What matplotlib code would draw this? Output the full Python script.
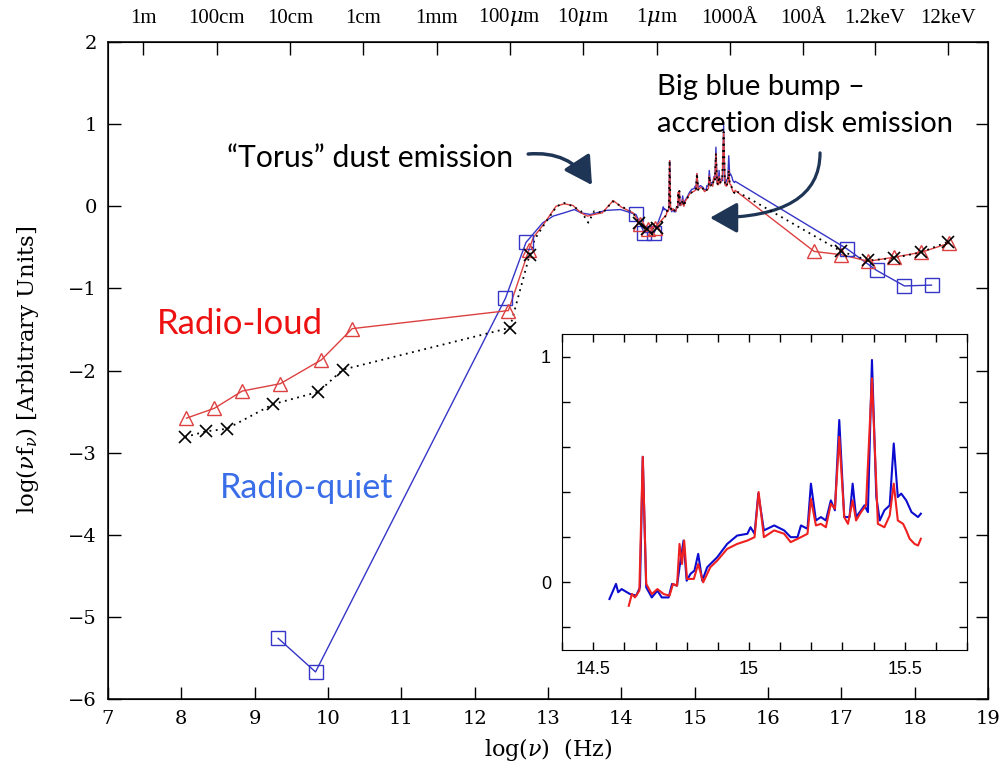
import numpy as np
import matplotlib
matplotlib.use('Agg')
import matplotlib.pyplot as plt

plt.rcParams['font.family'] = 'DejaVu Serif'
plt.rcParams['mathtext.fontset'] = 'dejavuserif'

# ---- radio-loud (red triangles) ----
loud_radio_x = [8.07, 8.45, 8.83, 9.35, 9.91, 10.33, 12.46, 12.74]
loud_radio_y = [-2.58, -2.46, -2.25, -2.16, -1.87, -1.49, -1.27, -0.53]
loud_ir_x = [12.80, 12.94, 13.11, 13.22, 13.34, 13.45, 13.54, 13.63, 13.74, 13.89, 14.00, 14.16]
loud_ir_y = [-0.38, -0.22, 0.00, 0.03, 0.01, -0.08, -0.12, -0.10, -0.08, 0.07, -0.01, -0.08]
loud_nir_x = [14.26, 14.36, 14.46]
loud_nir_y = [-0.22, -0.28, -0.26]
loud_xray_x = [16.63, 17.00, 17.37, 17.72, 18.09, 18.47]
loud_xray_y = [-0.55, -0.59, -0.67, -0.62, -0.56, -0.45]

# ---- radio-quiet (blue squares) ----
quiet_radio_x = [9.32, 9.83, 12.42, 12.70]
quiet_radio_y = [-5.26, -5.67, -1.12, -0.44]
quiet_ir_x = [12.93, 13.07, 13.22, 13.36, 13.45, 13.58, 13.79, 13.99]
quiet_ir_y = [-0.20, -0.12, -0.08, -0.04, -0.08, -0.10, -0.05, -0.04]
quiet_nir_x = [14.20, 14.31, 14.45]
quiet_nir_y = [-0.10, -0.32, -0.32]
quiet_xray_x = [17.08, 17.48, 17.86, 18.23]
quiet_xray_y = [-0.52, -0.78, -0.97, -0.96]

# ---- mean (black crosses, dotted) ----
mean_radio_x = [8.05, 8.34, 8.62, 9.25, 9.87, 10.20, 12.48, 12.75]
mean_radio_y = [-2.81, -2.74, -2.71, -2.41, -2.26, -1.99, -1.48, -0.59]
mean_ir_x = [12.82, 12.95, 13.12, 13.22, 13.34, 13.45, 13.55, 13.63, 13.75, 13.88, 14.00, 14.16]
mean_ir_y = [-0.40, -0.22, 0.00, 0.04, 0.00, -0.06, -0.20, -0.06, -0.08, 0.06, 0.00, -0.08]
mean_nir_x = [14.24, 14.35, 14.49]
mean_nir_y = [-0.20, -0.28, -0.27]
mean_xray_x = [17.00, 17.37, 17.72, 18.09, 18.46]
mean_xray_y = [-0.55, -0.66, -0.63, -0.56, -0.43]

# ---- optical/UV spectra (also shown in the inset) ----
spec_blue_x = [14.552, 14.573, 14.58, 14.591, 14.618, 14.638, 14.65, 14.659, 14.67, 14.688,
               14.706, 14.72, 14.742, 14.753, 14.769, 14.777, 14.79, 14.80, 14.812, 14.825,
               14.837, 14.85, 14.866, 14.898, 14.93, 14.962, 14.995, 15.005, 15.018, 15.03,
               15.048, 15.081, 15.113, 15.134, 15.156, 15.167, 15.188, 15.199, 15.215, 15.231,
               15.247, 15.263, 15.276, 15.29, 15.306, 15.323, 15.333, 15.344, 15.36, 15.371,
               15.382, 15.395, 15.409, 15.42, 15.435, 15.452, 15.465, 15.478, 15.489, 15.505,
               15.522, 15.543, 15.552]
spec_blue_y = [-0.074, -0.007, -0.044, -0.03, -0.052, -0.059, -0.022, 0.556, -0.022, -0.067,
               -0.037, -0.067, -0.067, -0.007, -0.015, 0.067, 0.185, 0.007, 0.037, 0.052,
               0.126, 0.007, 0.067, 0.111, 0.17, 0.207, 0.215, 0.244, 0.215, 0.393,
               0.23, 0.252, 0.23, 0.20, 0.20, 0.252, 0.237, 0.437, 0.274, 0.289,
               0.274, 0.363, 0.319, 0.719, 0.289, 0.289, 0.437, 0.289, 0.319, 0.341,
               0.311, 0.985, 0.378, 0.274, 0.319, 0.341, 0.615, 0.378, 0.393, 0.363,
               0.311, 0.289, 0.304]
spec_red_x = [14.614, 14.624, 14.634, 14.648, 14.659, 14.67, 14.688, 14.706, 14.726, 14.745,
              14.756, 14.769, 14.777, 14.785, 14.792, 14.801, 14.823, 14.837, 14.853, 14.876,
              14.898, 14.93, 14.962, 14.995, 15.018, 15.031, 15.048, 15.081, 15.113, 15.134,
              15.167, 15.188, 15.199, 15.215, 15.231, 15.247, 15.263, 15.276, 15.29, 15.306,
              15.318, 15.333, 15.344, 15.36, 15.376, 15.395, 15.414, 15.435, 15.452, 15.465,
              15.478, 15.495, 15.505, 15.516, 15.532, 15.543, 15.552]
spec_red_y = [-0.104, -0.052, -0.067, -0.037, 0.556, -0.007, -0.052, -0.03, -0.052, -0.059,
              -0.007, -0.015, 0.17, 0.081, 0.185, 0.015, 0.015, 0.081, 0.0, 0.067,
              0.096, 0.148, 0.17, 0.185, 0.20, 0.40, 0.20, 0.23, 0.215, 0.178,
              0.20, 0.215, 0.37, 0.252, 0.259, 0.244, 0.348, 0.326, 0.644, 0.289,
              0.259, 0.363, 0.274, 0.311, 0.341, 0.904, 0.259, 0.244, 0.296, 0.437,
              0.274, 0.259, 0.23, 0.193, 0.17, 0.163, 0.193]

top_tick_pos = [7.48, 8.48, 9.48, 10.48, 11.48, 12.48, 13.48, 14.48, 15.48, 16.48, 17.46, 18.46]
top_tick_labels = ['1m', '100cm', '10cm', '1cm', '1mm', r'100$\mu$m', r'10$\mu$m', r'1$\mu$m',
                   '1000Å', '100Å', '1.2keV', '12keV']

c_blue = '#3535c8'
c_red = '#dd4040'
arrow_c = '#1e3556'

fig = plt.figure(figsize=(10.02, 7.68), dpi=100)
ax = fig.add_axes([0.1078, 0.0898, 0.8782, 0.8555])

# lines
loud_line_x = loud_radio_x + loud_ir_x + loud_nir_x + spec_red_x + loud_xray_x
loud_line_y = loud_radio_y + loud_ir_y + loud_nir_y + spec_red_y + loud_xray_y
quiet_line_x = quiet_radio_x + quiet_ir_x + quiet_nir_x + spec_blue_x + quiet_xray_x
quiet_line_y = quiet_radio_y + quiet_ir_y + quiet_nir_y + spec_blue_y + quiet_xray_y
mean_line_x = mean_radio_x + mean_ir_x + mean_nir_x + spec_red_x + mean_xray_x
mean_line_y = mean_radio_y + mean_ir_y + mean_nir_y + spec_red_y + mean_xray_y

ax.plot(quiet_line_x, quiet_line_y, color=c_blue, lw=1.0, zorder=2)
ax.plot(loud_line_x, loud_line_y, color=c_red, lw=1.0, zorder=3)
ax.plot(mean_line_x, mean_line_y, color='k', lw=1.3, ls=(0, (1, 2.5)), zorder=4)

ax.plot(quiet_radio_x + quiet_nir_x + quiet_xray_x, quiet_radio_y + quiet_nir_y + quiet_xray_y,
        ls='none', marker='s', ms=9.5, mfc='none', mec=c_blue, mew=1.0, zorder=5)
ax.plot(loud_radio_x + loud_nir_x + loud_xray_x, loud_radio_y + loud_nir_y + loud_xray_y,
        ls='none', marker='^', ms=10.5, mfc='none', mec=c_red, mew=1.0, zorder=5)
ax.plot(mean_radio_x + mean_nir_x + mean_xray_x, mean_radio_y + mean_nir_y + mean_xray_y,
        ls='none', marker='x', ms=9, mec='k', mew=1.2, zorder=6)

ax.set_xlim(7, 19)
ax.set_ylim(-6, 2)
ax.set_xticks(range(7, 20))
ax.set_yticks(range(-6, 3))
ax.tick_params(direction='in', length=9, width=1, labelsize=14, right=True, top=False, pad=8)
for s in ax.spines.values():
    s.set_linewidth(1.1)
ax.set_xlabel(r'log($\nu$)  (Hz)', fontsize=16, labelpad=6)
fig.text(0.027, 0.518, r'log($\nu$f$_\nu$) [Arbitrary Units]', rotation=90,
         fontsize=16.5, ha='center', va='center')

top = ax.twiny()
top.set_xlim(7, 19)
top.set_xticks(top_tick_pos)
top.set_xticklabels(top_tick_labels, family='Liberation Serif')
top.tick_params(direction='in', length=9, width=1, labelsize=15, pad=10)

# annotations
sans = 'Lato'
ax.text(8.62, 0.477, '\u201cTorus\u201d dust emission', family=sans, fontsize=21.7, color='k')
ax.text(14.49, 1.355, 'Big blue bump \u2013', family=sans, fontsize=21, color='k')
ax.text(14.49, 0.904, 'accretion disk emission', family=sans, fontsize=21, color='k')
ax.text(7.67, -1.557, 'Radio-loud', family=sans, fontsize=25, color='#ee1111')
ax.text(8.53, -3.554, 'Radio-quiet', family=sans, fontsize=24.5, color='#3a6ee8')

ax.annotate('', xy=(13.60, 0.258), xytext=(12.73, 0.636),
            arrowprops=dict(arrowstyle='-|>,head_length=0.8,head_width=0.45', color=arrow_c,
                            lw=2.5, mutation_scale=21, shrinkA=0, shrinkB=0,
                            connectionstyle='arc3,rad=-0.3'))
ax.annotate('', xy=(15.21, -0.14), xytext=(16.71, 0.65),
            arrowprops=dict(arrowstyle='-|>,head_length=0.8,head_width=0.45', color=arrow_c,
                            lw=2.3, mutation_scale=21, shrinkA=0, shrinkB=0,
                            connectionstyle='angle3,angleA=90,angleB=0'))

# inset
ins = fig.add_axes([0.561, 0.1536, 0.404, 0.4115])
ins.plot(spec_blue_x, spec_blue_y, color='#0c0cd0', lw=1.5)
ins.plot(spec_red_x, spec_red_y, color='#ee2020', lw=1.5)
ins.set_xlim(14.4, 15.7)
ins.set_ylim(-0.3, 1.1)
ins.set_xticks(np.arange(14.4, 15.71, 0.1))
ins.set_xticklabels(['', '14.5', '', '', '', '', '15', '', '', '', '', '15.5', '', ''])
ins.set_yticks([-0.2, 0, 0.2, 0.4, 0.6, 0.8, 1.0])
ins.set_yticklabels(['', '0', '', '', '', '', '1'])
ins.tick_params(direction='in', length=6, width=1, top=True, right=True,
                labelsize=13, labelfontfamily='Liberation Sans', pad=8)

fig.savefig('out.png', dpi=100)
